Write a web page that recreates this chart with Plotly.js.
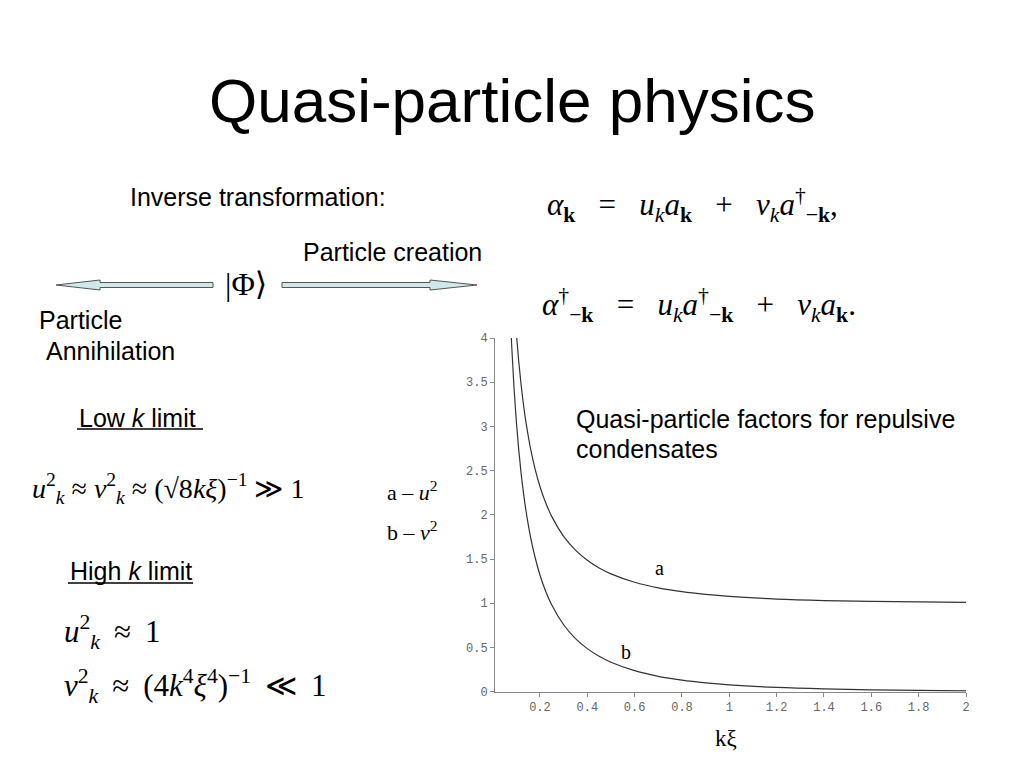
<!DOCTYPE html>
<html>
<head>
<meta charset="utf-8">
<script src="https://cdn.plot.ly/plotly-3.0.1.min.js"></script>
<style>html,body{margin:0;padding:0;background:#fff;}#chart{width:1024px;height:768px;}</style>
</head>
<body>
<div id="chart"></div>
<script>
// ---- data ----
const kxi = [0.07,0.08,0.09,0.10,0.11,0.12,0.13,0.14,0.16,0.18,0.20,0.22,0.25,0.30,0.35,0.40,0.45,0.50,0.60,0.70,0.80,0.90,1.00,1.20,1.40,1.60,1.80,2.00];
const uSquared = [5.569,4.941,4.452,4.062,3.743,3.478,3.254,3.062,2.752,2.512,2.320,2.165,1.980,1.757,1.601,1.487,1.400,1.333,1.238,1.174,1.131,1.100,1.077,1.048,1.031,1.021,1.015,1.010];
const vSquared = [4.569,3.941,3.452,3.062,2.743,2.478,2.254,2.062,1.752,1.512,1.320,1.165,0.980,0.757,0.601,0.487,0.400,0.333,0.238,0.174,0.131,0.100,0.077,0.048,0.031,0.021,0.015,0.010];
const xTickVals = [0.2,0.4,0.6,0.8,1,1.2,1.4,1.6,1.8,2];
const xTickText = ["0.2","0.4","0.6","0.8","1","1.2","1.4","1.6","1.8","2"];
const yTickVals = [0,0.5,1,1.5,2,2.5,3,3.5,4];
const yTickText = ["0","0.5","1","1.5","2","2.5","3","3.5","4"];

const W = 1024, H = 768;
const px = x => x / W;
const py = y => 1 - y / H;

const SANS = "Liberation Sans, Arial, sans-serif";
const SERIF = "Liberation Serif, DejaVu Serif, serif";
const MONO = "Liberation Mono, Courier New, monospace";
const EN = "\u2002", TH = "\u2009";

function ann(text, x, y, size, family, xanchor) {
  return {text: text, x: px(x), y: py(y), xref: "paper", yref: "paper",
    xanchor: xanchor || "left", yanchor: "middle", showarrow: false,
    font: {family: family, size: size, color: "#000"}};
}

const traces = [
  {x: kxi, y: uSquared, mode: "lines", line: {color: "#333", width: 1.2, shape: "spline", smoothing: 1}, hoverinfo: "skip", name: "u²"},
  {x: kxi, y: vSquared, mode: "lines", line: {color: "#333", width: 1.2, shape: "spline", smoothing: 1}, hoverinfo: "skip", name: "v²"}
];

function arrowPath(pts) {
  return "M " + pts.map(p => px(p[0]) + "," + py(p[1])).join(" L ") + " Z";
}

const shapes = [
  {type: "path", xref: "paper", yref: "paper",
   path: arrowPath([[213,282.5],[100,282.5],[100,280],[56,285],[100,290],[100,287.5],[213,287.5]]),
   fillcolor: "#cfe8ea", line: {color: "#555", width: 1}},
  {type: "path", xref: "paper", yref: "paper",
   path: arrowPath([[282,282.5],[430,282.5],[430,280],[477,285],[430,290],[430,287.5],[282,287.5]]),
   fillcolor: "#cfe8ea", line: {color: "#555", width: 1}},
  {type: "line", xref: "paper", yref: "paper", x0: px(77), x1: px(203), y0: py(429), y1: py(429), line: {color: "#000", width: 1.5}},
  {type: "line", xref: "paper", yref: "paper", x0: px(68), x1: px(193), y0: py(583), y1: py(583), line: {color: "#000", width: 1.5}}
];

const annotations = [
  ann("Quasi-particle physics", 512, 100, 62, SANS, "center"),
  ann("Inverse transformation:", 128, 197, 25, SANS),
  ann("Particle creation", 301, 252, 25, SANS),
  ann("Particle", 37, 320, 25, SANS),
  ann("Annihilation", 44, 351, 25, SANS),
  ann("Low <i>k</i> limit", 77, 418, 25, SANS),
  ann("High <i>k</i> limit", 68, 571, 25, SANS),
  ann("Quasi-particle factors for repulsive", 574, 419, 25, SANS),
  ann("condensates", 574, 449, 25, SANS),
  ann("|Φ⟩", 246, 284, 32, SERIF, "center"),
  ann("<i>α</i><sub><b>k</b></sub> " + EN + "=" + EN + " <i>u<sub>k</sub>a</i><sub><b>k</b></sub> " + EN + "+" + EN + " <i>v<sub>k</sub>a</i><sup>†</sup><sub>−<b>k</b></sub>,", 545, 205, 31, SERIF),
  ann("<i>α</i><sup>†</sup><sub>−<b>k</b></sub> " + EN + "=" + EN + " <i>u<sub>k</sub>a</i><sup>†</sup><sub>−<b>k</b></sub> " + EN + "+" + EN + " <i>v<sub>k</sub>a</i><sub><b>k</b></sub>.", 540, 305, 31, SERIF),
  ann("<i>u</i><sup>2</sup><sub><i>k</i></sub> ≈ <i>v</i><sup>2</sup><sub><i>k</i></sub> ≈ (√8<i>kξ</i>)<sup>−1</sup> ≫ 1", 30, 488, 28, SERIF),
  ann("<i>u</i><sup>2</sup><sub><i>k</i></sub> " + TH + "≈" + TH + " 1", 62, 632, 31, SERIF),
  ann("<i>v</i><sup>2</sup><sub><i>k</i></sub> " + TH + "≈" + TH + " (4<i>k</i><sup>4</sup><i>ξ</i><sup>4</sup>)<sup>−1</sup> " + TH + "≪" + TH + " 1", 62, 686, 31, SERIF),
  ann("a – <i>u</i><sup>2</sup>", 385, 491, 22, SERIF),
  ann("b – <i>v</i><sup>2</sup>", 385, 531, 22, SERIF),
  ann("a", 659, 568, 20, SERIF, "center"),
  ann("b", 626, 652, 20, SERIF, "center"),
  ann("kξ", 726, 738, 23, SERIF, "center")
];

const layout = {
  width: W, height: H,
  margin: {l: 0, r: 0, t: 0, b: 0, pad: 0},
  paper_bgcolor: "#fff", plot_bgcolor: "#fff",
  showlegend: false,
  xaxis: {domain: [px(495), px(966)], range: [0.01, 2], showgrid: false, zeroline: false,
    showline: true, linecolor: "#888", linewidth: 1, ticks: "outside", ticklen: 4, tickcolor: "#888",
    tickvals: xTickVals, ticktext: xTickText, tickfont: {family: MONO, size: 12, color: "#666"},
    anchor: "y", fixedrange: true},
  yaxis: {domain: [py(691.7), py(338)], range: [0, 4], showgrid: false, zeroline: false,
    showline: true, linecolor: "#888", linewidth: 1, ticks: "outside", ticklen: 4, tickcolor: "#888",
    tickvals: yTickVals, ticktext: yTickText, tickfont: {family: MONO, size: 12, color: "#666"},
    anchor: "x", fixedrange: true},
  shapes: shapes,
  annotations: annotations
};

Plotly.newPlot("chart", traces, layout, {staticPlot: true, displayModeBar: false});
</script>
</body>
</html>
